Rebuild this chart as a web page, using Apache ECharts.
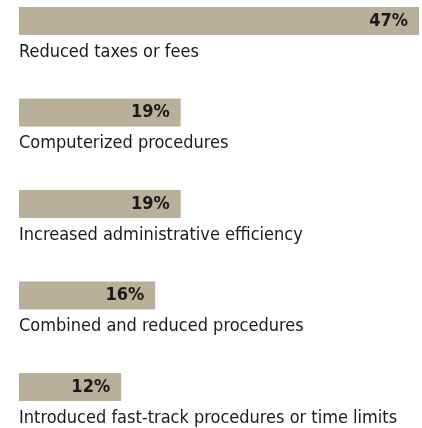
<!DOCTYPE html>
<html><head><meta charset="utf-8">
<script src="https://cdn.jsdelivr.net/npm/echarts@6/dist/echarts.min.js"></script>
<style>html,body{margin:0;padding:0;background:#fff}#c{width:422px;height:428px}</style>
</head><body><div id="c"></div>
<script>
const categories = ["Reduced taxes or fees","Computerized procedures","Increased administrative efficiency","Combined and reduced procedures","Introduced fast-track procedures or time limits"];
const values = [47, 19, 19, 16, 12];
const chart = echarts.init(document.getElementById('c'), null, {renderer:'canvas'});
chart.setOption({
  animation:false,
  grid:{left:19, right:3, top:-24.75, height:457.5, containLabel:false, outerBoundsMode:'none'},
  xAxis:{type:'value', min:0, max:47, show:false},
  yAxis:{type:'category', data:categories, inverse:true,
    axisLine:{show:false}, axisTick:{show:false},
    axisLabel:{inside:true, margin:0, align:'left', verticalAlign:'top', padding:[22,0,0,0],
      fontFamily:'DejaVu Sans Condensed', fontSize:18, color:'#1a1a1a'}},
  series:[{type:'bar', data:values, barWidth:28,
    itemStyle:{color:'#b8b098'},
    label:{show:true, position:'insideRight', distance:11, formatter:'{c}%',
      fontFamily:'DejaVu Sans Condensed', fontWeight:'bold', fontSize:18, color:'#1a1a1a'}}]
});
</script></body></html>
